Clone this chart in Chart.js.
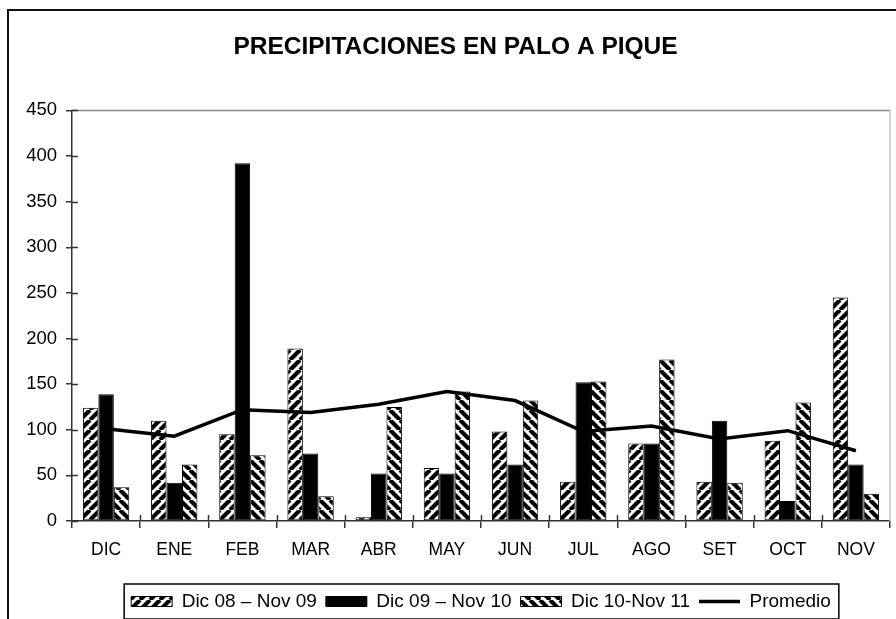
<!DOCTYPE html>
<html>
<head>
<meta charset="utf-8">
<script src="https://cdn.jsdelivr.net/npm/chart.js@4"></script>
<style>
  html, body { margin: 0; padding: 0; background: #fff; }
  #wrap { width: 896px; height: 619px; }
</style>
</head>
<body>
<div id="wrap"><canvas id="chart" width="896" height="619"></canvas></div>
<script>
const months = ["DIC", "ENE", "FEB", "MAR", "ABR", "MAY", "JUN", "JUL", "AGO", "SET", "OCT", "NOV"];
const serie0809 = [124, 110, 95, 189, 4, 58, 98, 43, 85, 43, 88, 245];
const serie0910 = [139, 42, 392, 74, 52, 52, 62, 152, 85, 110, 22, 62];
const serie1011 = [37, 62, 72, 27, 125, 142, 132, 153, 177, 42, 130, 30];
const promedio = [101, 93, 122, 119, 128, 142, 132, 98, 104, 90, 99, 77];
const yTicks = [0, 50, 100, 150, 200, 250, 300, 350, 400, 450];

const FONT = "'Liberation Sans', Arial, sans-serif";

// rayado diagonal tipo Excel
function stripes(up) {
  const s = 10;
  const c = document.createElement("canvas");
  c.width = s;
  c.height = s;
  const g = c.getContext("2d");
  g.fillStyle = "#fff";
  g.fillRect(0, 0, s, s);
  g.strokeStyle = "#000";
  g.lineWidth = 4.2;
  g.beginPath();
  for (const k of [-s, 0, s]) {
    if (up) {
      g.moveTo(k, s);
      g.lineTo(k + s, 0);
    } else {
      g.moveTo(k, 0);
      g.lineTo(k + s, s);
    }
  }
  g.stroke();
  return g.createPattern(c, "repeat");
}

const frame = {
  id: "frame",
  beforeDraw(chart) {
    const ctx = chart.ctx;
    ctx.save();
    ctx.fillStyle = "#fff";
    ctx.fillRect(0, 0, chart.width, chart.height);
    ctx.strokeStyle = "#111";
    ctx.lineWidth = 2;
    ctx.strokeRect(8, 10, chart.width + 20, chart.height + 20);
    ctx.restore();
  },
  afterDraw(chart) {
    const ctx = chart.ctx;
    const a = chart.chartArea;
    const x = chart.scales.x, y = chart.scales.y;
    ctx.save();
    // borde del área de trazado
    ctx.lineWidth = 1.5;
    ctx.strokeStyle = "#8a8a8a";
    ctx.beginPath();
    ctx.moveTo(a.left, a.top);
    ctx.lineTo(a.right, a.top);
    ctx.stroke();
    ctx.strokeStyle = "#c8c8c8";
    ctx.beginPath();
    ctx.moveTo(a.right, a.top);
    ctx.lineTo(a.right, a.bottom);
    ctx.stroke();
    // marcas cruzadas hacia adentro
    ctx.strokeStyle = "#333";
    ctx.lineWidth = 1.5;
    ctx.beginPath();
    yTicks.forEach((v) => {
      const py = Math.round(y.getPixelForValue(v)) + 0.5;
      ctx.moveTo(a.left, py);
      ctx.lineTo(a.left + 6, py);
    });
    const half = (x.getPixelForValue(1) - x.getPixelForValue(0)) / 2;
    for (let i = 1; i < months.length; i++) {
      const px = Math.round(x.getPixelForValue(i) - half) + 0.5;
      ctx.moveTo(px, a.bottom);
      ctx.lineTo(px, a.bottom - 6);
    }
    ctx.stroke();
    // caja de la leyenda
    const hb = chart.legend.legendHitBoxes;
    if (hb && hb.length) {
      const l = hb[0].left - 7;
      const last = hb[hb.length - 1];
      const r = last.left + last.width + 8;
      const t = hb[0].top - 8;
      const b = hb[0].top + hb[0].height + 8;
      ctx.strokeStyle = "#000";
      ctx.lineWidth = 1.5;
      ctx.strokeRect(l, t, r - l, b - t);
    }
    ctx.restore();
  },
};

const barStyle = {
  borderColor: "#000",
  borderWidth: 1,
  borderSkipped: false,
  categoryPercentage: 0.68,
  barPercentage: 1,
  order: 1,
  pointStyle: "rect",
};

new Chart(document.getElementById("chart"), {
  type: "bar",
  data: {
    labels: months,
    datasets: [
      { label: "Dic 08 – Nov 09", data: serie0809, backgroundColor: stripes(true), ...barStyle },
      { label: "Dic 09 – Nov 10", data: serie0910, backgroundColor: "#000", ...barStyle },
      { label: "Dic 10-Nov 11", data: serie1011, backgroundColor: stripes(false), ...barStyle },
      {
        type: "line",
        label: "Promedio",
        data: promedio,
        borderColor: "#000",
        backgroundColor: "#000",
        borderWidth: 3.5,
        pointRadius: 0,
        tension: 0,
        order: 0,
        pointStyle: "line",
      },
    ],
  },
  options: {
    responsive: false,
    animation: false,
    layout: { padding: { left: 21, right: 6, top: 0, bottom: -2 } },
    plugins: {
      title: {
        display: true,
        text: "PRECIPITACIONES EN PALO A PIQUE",
        color: "#000",
        font: { family: FONT, size: 24.5, weight: "bold" },
        padding: { top: 33, bottom: 48 },
      },
      legend: {
        position: "bottom",
        fullSize: false,
        labels: {
          color: "#000",
          font: { family: FONT, size: 19 },
          usePointStyle: true,
          pointStyleWidth: 41,
          boxHeight: 10,
          padding: 9,
          sort: (a, b) => a.datasetIndex - b.datasetIndex,
        },
      },
      tooltip: { enabled: false },
    },
    scales: {
      x: {
        afterFit: (s) => { s.height = 62; },
        grid: { display: true, drawOnChartArea: false, tickLength: 7, color: "#333", lineWidth: 1.5 },
        border: { color: "#333", width: 1.5 },
        ticks: { color: "#000", font: { family: FONT, size: 17.5 }, padding: 12 },
      },
      y: {
        min: 0,
        max: 450,
        afterFit: (s) => { s.width = 51; },
        afterBuildTicks: (s) => { s.ticks = yTicks.map((v) => ({ value: v })); },
        grid: { display: true, drawOnChartArea: false, tickLength: 6, color: "#333", lineWidth: 1.5 },
        border: { color: "#333", width: 1.5 },
        ticks: { color: "#000", font: { family: FONT, size: 18.5 }, padding: 9 },
      },
    },
  },
  plugins: [frame],
});
</script>
</body>
</html>
